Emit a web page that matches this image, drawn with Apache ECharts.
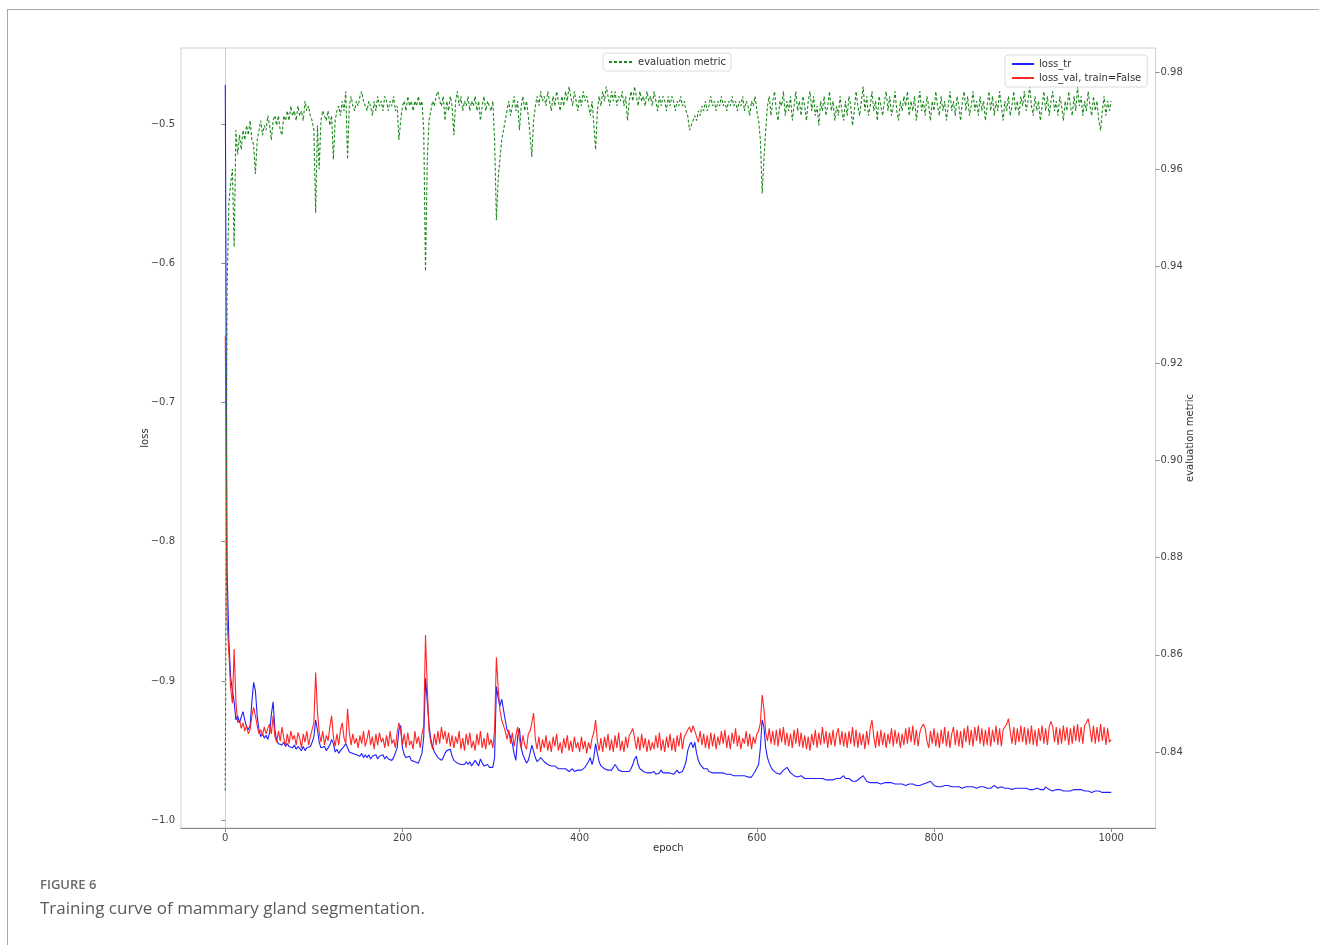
<!DOCTYPE html>
<html>
<head>
<meta charset="utf-8">
<script src="https://cdn.jsdelivr.net/npm/echarts@6/dist/echarts.min.js"></script>
<style>
html,body{margin:0;padding:0;background:#fff;}
#chart{width:1319px;height:945px;}
</style>
</head>
<body>
<div id="chart"></div>
<script>
// ---- data (sampled every 2 epochs: 0,2,...,1000) ----
const epochStep = 2;

const lossTr = [
-0.472,-0.820,-0.870,-0.897,-0.907,-0.915,-0.928,-0.925,-0.930,-0.926,-0.922,-0.928,-0.933,-0.935,-0.932,-0.915,-0.901,-0.907,-0.925,-0.935,-0.940,-0.938,-0.941,-0.939,-0.942,
-0.937,-0.924,-0.915,-0.935,-0.943,-0.945,-0.944,-0.946,-0.944,-0.947,-0.945,-0.947,-0.946,-0.948,-0.946,-0.949,-0.947,-0.948,-0.950,-0.947,-0.950,-0.948,-0.949,-0.947,-0.944,
-0.940,-0.928,-0.935,-0.944,-0.948,-0.949,-0.947,-0.950,-0.948,-0.946,-0.942,-0.945,-0.951,-0.949,-0.952,-0.950,-0.951,-0.947,-0.945,-0.948,-0.951,-0.950,-0.952,-0.951,-0.953,
-0.952,-0.954,-0.952,-0.955,-0.953,-0.955,-0.953,-0.956,-0.954,-0.955,-0.953,-0.956,-0.954,-0.955,-0.953,-0.956,-0.954,-0.956,-0.955,-0.957,-0.955,-0.954,-0.948,-0.935,-0.932,
-0.948,-0.953,-0.955,-0.956,-0.954,-0.957,-0.956,-0.958,-0.957,-0.959,-0.958,-0.952,-0.940,-0.898,-0.915,-0.932,-0.942,-0.947,-0.951,-0.953,-0.955,-0.956,-0.957,-0.955,-0.952,
-0.950,-0.951,-0.949,-0.954,-0.957,-0.958,-0.959,-0.958,-0.960,-0.959,-0.960,-0.958,-0.960,-0.958,-0.961,-0.959,-0.957,-0.959,-0.961,-0.956,-0.959,-0.961,-0.962,-0.960,-0.962,
-0.961,-0.962,-0.955,-0.904,-0.912,-0.918,-0.913,-0.912,-0.928,-0.935,-0.937,-0.940,-0.945,-0.952,-0.957,-0.940,-0.934,-0.948,-0.953,-0.956,-0.959,-0.957,-0.952,-0.946,-0.947,
-0.955,-0.958,-0.957,-0.955,-0.955,-0.958,-0.959,-0.960,-0.961,-0.961,-0.962,-0.961,-0.962,-0.963,-0.962,-0.963,-0.964,-0.963,-0.964,-0.965,-0.964,-0.963,-0.965,-0.964,-0.964,
-0.965,-0.964,-0.963,-0.962,-0.961,-0.958,-0.955,-0.960,-0.955,-0.945,-0.952,-0.958,-0.961,-0.962,-0.963,-0.962,-0.964,-0.963,-0.964,-0.962,-0.960,-0.962,-0.964,-0.963,-0.965,
-0.964,-0.965,-0.964,-0.965,-0.963,-0.960,-0.956,-0.954,-0.960,-0.963,-0.964,-0.965,-0.964,-0.966,-0.965,-0.966,-0.966,-0.965,-0.967,-0.966,-0.966,-0.964,-0.966,-0.967,-0.966,
-0.967,-0.966,-0.965,-0.967,-0.966,-0.964,-0.966,-0.965,-0.965,-0.962,-0.958,-0.950,-0.946,-0.944,-0.948,-0.944,-0.952,-0.957,-0.960,-0.961,-0.963,-0.964,-0.963,-0.965,-0.964,
-0.966,-0.965,-0.966,-0.967,-0.966,-0.967,-0.966,-0.965,-0.967,-0.968,-0.967,-0.966,-0.968,-0.967,-0.968,-0.967,-0.968,-0.969,-0.968,-0.968,-0.969,-0.968,-0.969,-0.967,-0.965,
-0.966,-0.960,-0.948,-0.928,-0.933,-0.948,-0.955,-0.959,-0.962,-0.964,-0.965,-0.966,-0.967,-0.967,-0.966,-0.964,-0.963,-0.962,-0.964,-0.966,-0.967,-0.968,-0.968,-0.969,-0.969,
-0.968,-0.969,-0.970,-0.969,-0.970,-0.969,-0.970,-0.969,-0.970,-0.971,-0.970,-0.969,-0.970,-0.970,-0.971,-0.970,-0.971,-0.970,-0.971,-0.971,-0.970,-0.971,-0.970,-0.969,-0.968,
-0.970,-0.971,-0.970,-0.971,-0.972,-0.971,-0.972,-0.971,-0.970,-0.969,-0.968,-0.970,-0.972,-0.972,-0.973,-0.972,-0.973,-0.972,-0.973,-0.973,-0.974,-0.973,-0.973,-0.974,-0.973,
-0.974,-0.973,-0.974,-0.974,-0.973,-0.974,-0.975,-0.974,-0.974,-0.975,-0.974,-0.974,-0.975,-0.974,-0.975,-0.975,-0.974,-0.975,-0.975,-0.974,-0.974,-0.973,-0.972,-0.972,-0.973,
-0.975,-0.975,-0.976,-0.975,-0.976,-0.975,-0.975,-0.976,-0.975,-0.976,-0.976,-0.975,-0.976,-0.975,-0.976,-0.976,-0.977,-0.976,-0.976,-0.975,-0.976,-0.977,-0.976,-0.976,-0.977,
-0.976,-0.976,-0.977,-0.976,-0.977,-0.977,-0.976,-0.977,-0.976,-0.975,-0.976,-0.977,-0.977,-0.976,-0.977,-0.977,-0.978,-0.977,-0.977,-0.978,-0.977,-0.977,-0.976,-0.977,-0.978,
-0.977,-0.978,-0.977,-0.978,-0.978,-0.977,-0.978,-0.978,-0.977,-0.978,-0.978,-0.977,-0.978,-0.976,-0.977,-0.978,-0.978,-0.979,-0.978,-0.978,-0.979,-0.978,-0.978,-0.979,-0.978,
-0.979,-0.978,-0.979,-0.979,-0.978,-0.979,-0.978,-0.977,-0.978,-0.979,-0.979,-0.978,-0.979,-0.979,-0.980,-0.979,-0.979,-0.980,-0.979,-0.979,-0.980,-0.979,-0.980,-0.979,-0.980,
-0.980
];

const lossVal = [
-0.652,-0.856,-0.880,-0.905,-0.916,-0.877,-0.915,-0.930,-0.928,-0.934,-0.930,-0.936,-0.932,-0.938,-0.935,-0.925,-0.919,-0.925,-0.932,-0.938,-0.935,-0.939,-0.933,-0.938,-0.934,
-0.931,-0.938,-0.925,-0.940,-0.944,-0.936,-0.943,-0.933,-0.941,-0.947,-0.938,-0.945,-0.936,-0.942,-0.939,-0.946,-0.937,-0.941,-0.948,-0.938,-0.944,-0.936,-0.946,-0.940,-0.935,
-0.930,-0.894,-0.922,-0.937,-0.944,-0.936,-0.946,-0.939,-0.943,-0.933,-0.925,-0.940,-0.947,-0.938,-0.946,-0.935,-0.930,-0.941,-0.945,-0.920,-0.937,-0.946,-0.938,-0.945,-0.941,
-0.948,-0.939,-0.945,-0.936,-0.947,-0.942,-0.935,-0.946,-0.940,-0.949,-0.938,-0.946,-0.937,-0.944,-0.941,-0.948,-0.939,-0.947,-0.936,-0.945,-0.942,-0.948,-0.937,-0.930,-0.936,
-0.946,-0.938,-0.948,-0.937,-0.946,-0.943,-0.949,-0.936,-0.945,-0.940,-0.948,-0.938,-0.932,-0.867,-0.905,-0.936,-0.944,-0.949,-0.938,-0.946,-0.936,-0.945,-0.933,-0.942,-0.936,
-0.945,-0.937,-0.947,-0.939,-0.948,-0.940,-0.945,-0.936,-0.949,-0.941,-0.950,-0.938,-0.946,-0.937,-0.948,-0.943,-0.950,-0.938,-0.946,-0.936,-0.948,-0.941,-0.949,-0.937,-0.946,
-0.942,-0.948,-0.935,-0.883,-0.905,-0.921,-0.928,-0.932,-0.936,-0.942,-0.935,-0.945,-0.937,-0.947,-0.939,-0.933,-0.942,-0.948,-0.939,-0.946,-0.949,-0.938,-0.936,-0.930,-0.923,
-0.942,-0.949,-0.940,-0.951,-0.942,-0.948,-0.939,-0.950,-0.943,-0.951,-0.940,-0.947,-0.938,-0.950,-0.944,-0.952,-0.941,-0.948,-0.939,-0.950,-0.943,-0.951,-0.940,-0.948,-0.944,
-0.951,-0.940,-0.949,-0.943,-0.952,-0.944,-0.949,-0.941,-0.937,-0.928,-0.943,-0.950,-0.941,-0.951,-0.940,-0.948,-0.938,-0.950,-0.942,-0.951,-0.939,-0.948,-0.937,-0.950,-0.943,
-0.951,-0.940,-0.948,-0.939,-0.937,-0.934,-0.941,-0.949,-0.940,-0.950,-0.938,-0.948,-0.941,-0.951,-0.942,-0.950,-0.944,-0.949,-0.939,-0.948,-0.937,-0.950,-0.942,-0.951,-0.940,
-0.948,-0.938,-0.950,-0.941,-0.951,-0.939,-0.947,-0.937,-0.949,-0.940,-0.938,-0.935,-0.933,-0.937,-0.932,-0.936,-0.940,-0.944,-0.936,-0.946,-0.938,-0.948,-0.939,-0.949,-0.937,
-0.947,-0.938,-0.949,-0.940,-0.946,-0.936,-0.945,-0.935,-0.948,-0.939,-0.949,-0.937,-0.945,-0.934,-0.947,-0.939,-0.949,-0.941,-0.945,-0.936,-0.947,-0.938,-0.949,-0.940,-0.945,
-0.938,-0.936,-0.930,-0.910,-0.920,-0.937,-0.943,-0.934,-0.945,-0.936,-0.946,-0.935,-0.947,-0.934,-0.944,-0.933,-0.946,-0.937,-0.947,-0.938,-0.948,-0.935,-0.945,-0.934,-0.947,
-0.937,-0.948,-0.939,-0.949,-0.940,-0.950,-0.938,-0.946,-0.935,-0.948,-0.937,-0.946,-0.933,-0.945,-0.936,-0.948,-0.937,-0.946,-0.935,-0.947,-0.938,-0.934,-0.946,-0.936,-0.947,
-0.937,-0.948,-0.936,-0.945,-0.933,-0.947,-0.935,-0.948,-0.937,-0.946,-0.938,-0.949,-0.936,-0.946,-0.934,-0.928,-0.940,-0.948,-0.936,-0.947,-0.935,-0.946,-0.937,-0.948,-0.938,
-0.945,-0.934,-0.947,-0.935,-0.945,-0.937,-0.948,-0.938,-0.946,-0.934,-0.945,-0.933,-0.944,-0.932,-0.946,-0.935,-0.947,-0.937,-0.933,-0.931,-0.934,-0.943,-0.948,-0.936,-0.945,
-0.934,-0.947,-0.937,-0.948,-0.935,-0.945,-0.933,-0.947,-0.936,-0.948,-0.938,-0.933,-0.946,-0.935,-0.947,-0.936,-0.948,-0.934,-0.944,-0.932,-0.946,-0.935,-0.947,-0.933,-0.943,
-0.932,-0.945,-0.934,-0.947,-0.935,-0.946,-0.933,-0.947,-0.935,-0.944,-0.932,-0.946,-0.934,-0.947,-0.935,-0.933,-0.931,-0.927,-0.936,-0.945,-0.933,-0.946,-0.934,-0.944,-0.932,
-0.944,-0.933,-0.946,-0.934,-0.945,-0.932,-0.946,-0.935,-0.947,-0.934,-0.943,-0.932,-0.945,-0.934,-0.946,-0.933,-0.929,-0.933,-0.944,-0.933,-0.946,-0.934,-0.945,-0.932,-0.943,
-0.933,-0.946,-0.934,-0.945,-0.932,-0.943,-0.931,-0.944,-0.933,-0.945,-0.932,-0.930,-0.927,-0.934,-0.944,-0.932,-0.945,-0.933,-0.944,-0.931,-0.943,-0.933,-0.946,-0.934,-0.944,
-0.942
];

const evalMetric = [
0.832,0.935,0.953,0.957,0.960,0.944,0.968,0.963,0.967,0.964,0.968,0.966,0.969,0.967,0.970,0.966,0.965,0.959,0.966,0.968,0.970,0.967,0.969,0.968,0.971,
0.969,0.966,0.970,0.971,0.969,0.971,0.968,0.967,0.971,0.970,0.972,0.970,0.973,0.971,0.972,0.970,0.973,0.971,0.972,0.970,0.974,0.972,0.973,0.971,0.970,
0.968,0.951,0.969,0.960,0.970,0.972,0.971,0.970,0.972,0.969,0.971,0.962,0.970,0.972,0.973,0.971,0.974,0.972,0.976,0.962,0.973,0.975,0.973,0.972,0.974,
0.973,0.975,0.976,0.974,0.973,0.972,0.974,0.973,0.971,0.974,0.972,0.975,0.973,0.974,0.972,0.975,0.974,0.972,0.974,0.973,0.975,0.972,0.973,0.966,0.970,
0.973,0.974,0.972,0.975,0.973,0.974,0.972,0.974,0.973,0.975,0.973,0.974,0.968,0.939,0.962,0.970,0.972,0.974,0.973,0.975,0.976,0.974,0.973,0.975,0.970,
0.974,0.972,0.975,0.973,0.967,0.974,0.976,0.973,0.975,0.972,0.974,0.973,0.975,0.972,0.974,0.973,0.975,0.972,0.974,0.970,0.973,0.975,0.972,0.974,0.973,
0.972,0.974,0.966,0.9495,0.958,0.962,0.966,0.968,0.970,0.972,0.974,0.971,0.973,0.975,0.972,0.974,0.968,0.973,0.975,0.972,0.974,0.971,0.967,0.9625,0.970,
0.973,0.975,0.973,0.976,0.974,0.975,0.973,0.976,0.974,0.972,0.975,0.973,0.976,0.974,0.972,0.975,0.973,0.976,0.974,0.977,0.975,0.973,0.976,0.974,0.972,
0.975,0.973,0.976,0.974,0.975,0.973,0.971,0.974,0.969,0.964,0.972,0.975,0.973,0.976,0.974,0.977,0.975,0.973,0.976,0.974,0.976,0.973,0.975,0.974,0.976,
0.973,0.975,0.970,0.974,0.976,0.974,0.977,0.975,0.973,0.976,0.974,0.975,0.973,0.976,0.974,0.975,0.973,0.976,0.974,0.972,0.975,0.973,0.975,0.974,0.972,
0.975,0.973,0.975,0.974,0.972,0.974,0.973,0.975,0.973,0.974,0.972,0.971,0.968,0.969,0.970,0.971,0.970,0.972,0.971,0.973,0.972,0.974,0.972,0.973,0.975,
0.973,0.974,0.972,0.974,0.973,0.975,0.973,0.974,0.972,0.974,0.973,0.975,0.973,0.974,0.972,0.974,0.973,0.975,0.972,0.974,0.973,0.971,0.974,0.973,0.975,
0.972,0.970,0.966,0.955,0.962,0.968,0.973,0.975,0.971,0.974,0.976,0.972,0.970,0.974,0.973,0.976,0.971,0.974,0.972,0.975,0.970,0.973,0.976,0.972,0.974,
0.971,0.975,0.973,0.970,0.974,0.976,0.972,0.975,0.971,0.973,0.969,0.974,0.972,0.975,0.971,0.973,0.976,0.972,0.974,0.970,0.973,0.971,0.975,0.972,0.970,
0.974,0.971,0.975,0.973,0.969,0.972,0.976,0.973,0.971,0.974,0.977,0.972,0.975,0.971,0.973,0.976,0.972,0.974,0.970,0.975,0.973,0.971,0.974,0.976,0.972,
0.975,0.971,0.973,0.976,0.972,0.970,0.974,0.972,0.975,0.973,0.976,0.971,0.974,0.972,0.975,0.970,0.973,0.976,0.972,0.974,0.971,0.975,0.973,0.970,0.974,
0.972,0.976,0.973,0.971,0.975,0.972,0.974,0.970,0.973,0.976,0.972,0.974,0.971,0.975,0.973,0.970,0.974,0.976,0.972,0.975,0.971,0.973,0.976,0.972,0.974,
0.971,0.975,0.972,0.974,0.970,0.973,0.976,0.972,0.975,0.971,0.974,0.972,0.976,0.973,0.970,0.974,0.972,0.975,0.971,0.973,0.976,0.972,0.974,0.971,0.975,
0.973,0.976,0.972,0.974,0.977,0.973,0.971,0.975,0.972,0.974,0.970,0.973,0.976,0.972,0.975,0.971,0.974,0.976,0.972,0.974,0.971,0.975,0.973,0.970,0.974,
0.972,0.976,0.973,0.971,0.975,0.972,0.977,0.973,0.975,0.971,0.974,0.972,0.976,0.973,0.971,0.975,0.972,0.974,0.970,0.968,0.972,0.975,0.971,0.974,0.972,
0.974
];

// ---- axes ticks ----
const epochTicks = [0, 200, 400, 600, 800, 1000];
const lossTicks = [-1.0, -0.9, -0.8, -0.7, -0.6, -0.5];
const lossTickLabels = ['\u22121.0', '\u22120.9', '\u22120.8', '\u22120.7', '\u22120.6', '\u22120.5'];
const evalTicks = [0.84, 0.86, 0.88, 0.90, 0.92, 0.94, 0.96, 0.98];
const evalTickLabels = ['0.84', '0.86', '0.88', '0.90', '0.92', '0.94', '0.96', '0.98'];

const toPairs = arr => arr.map((v, i) => [i * epochStep, v]);
const pick = (ticks, labels) => v => {
  const i = ticks.findIndex(t => Math.abs(t - v) < 1e-9);
  return i >= 0 ? labels[i] : '';
};

const FONT = 'DejaVu Sans';
const labelStyle = { color: '#444', fontSize: 10, fontFamily: FONT };
const legendCommon = {
  borderColor: '#dcdcdc', borderWidth: 1, borderRadius: 3, backgroundColor: 'rgba(255,255,255,0.8)',
  textStyle: { color: '#333', fontSize: 10, fontFamily: FONT },
  itemStyle: { opacity: 0, borderWidth: 0 },
  selectedMode: false
};

const chart = echarts.init(document.getElementById('chart'), null, { renderer: 'canvas' });
chart.setOption({
  animation: false,
  backgroundColor: '#fff',
  title: {
    text: 'FIGURE 6',
    subtext: 'Training curve of mammary gland segmentation.',
    left: 40, top: 877, padding: 0, itemGap: 5,
    textStyle: { fontFamily: 'Open Sans', fontSize: 13, fontWeight: 600, color: '#6a6a6a', lineHeight: 16 },
    subtextStyle: { fontFamily: 'Open Sans', fontSize: 17, color: '#5a5a5a', lineHeight: 22 }
  },
  graphic: [
    { type: 'line', shape: { x1: 7, y1: 9.5, x2: 1319, y2: 9.5 }, style: { stroke: '#a8a8a8', lineWidth: 1 } },
    { type: 'line', shape: { x1: 7.5, y1: 9, x2: 7.5, y2: 945 }, style: { stroke: '#a8a8a8', lineWidth: 1 } }
  ],
  legend: [
    Object.assign({
      data: ['evaluation metric'],
      left: 603, top: 53, padding: [4, 5], itemWidth: 24, itemHeight: 12
    }, legendCommon),
    Object.assign({
      data: ['loss_tr', 'loss_val, train=False'],
      orient: 'vertical', left: 1005, top: 55, padding: [4, 6], itemGap: 4, itemWidth: 22, itemHeight: 12
    }, legendCommon)
  ],
  grid: { left: 181, top: 48, width: 974.5, height: 780, show: true, borderColor: '#cfcfcf', borderWidth: 1, backgroundColor: 'transparent' },
  xAxis: {
    type: 'value', min: -50, max: 1050,
    name: 'epoch', nameLocation: 'middle', nameGap: 15, nameMoveOverlap: false,
    nameTextStyle: { color: '#333', fontSize: 10, fontFamily: FONT },
    axisLine: { show: true, lineStyle: { color: '#8a8a8a', width: 1 } },
    axisTick: { show: true, length: 4, customValues: epochTicks, lineStyle: { color: '#8a8a8a' } },
    axisLabel: Object.assign({ customValues: epochTicks, margin: 5, formatter: v => String(v) }, labelStyle),
    splitLine: { show: false }
  },
  yAxis: [
    {
      type: 'value', position: 'left', min: -1.00557, max: -0.44542,
      name: 'loss', nameLocation: 'middle', nameGap: 31, nameRotate: 90, nameMoveOverlap: false,
      nameTextStyle: { color: '#333', fontSize: 10, fontFamily: FONT },
      axisLine: { show: true, lineStyle: { color: '#cfcfcf', width: 1 } },
      axisTick: { show: true, length: 4, customValues: lossTicks, lineStyle: { color: '#8a8a8a' } },
      axisLabel: Object.assign({ customValues: lossTicks, margin: 6, formatter: pick(lossTicks, lossTickLabels) }, labelStyle),
      splitLine: { show: false }
    },
    {
      type: 'value', position: 'right', min: 0.82435, max: 0.98494,
      name: 'evaluation metric', nameLocation: 'middle', nameGap: 30, nameRotate: 90, nameMoveOverlap: false,
      nameTextStyle: { color: '#333', fontSize: 10, fontFamily: FONT },
      axisLine: { show: true, lineStyle: { color: '#cfcfcf', width: 1 } },
      axisTick: { show: true, length: 4, customValues: evalTicks, lineStyle: { color: '#8a8a8a' } },
      axisLabel: Object.assign({ customValues: evalTicks, margin: 5, formatter: pick(evalTicks, evalTickLabels) }, labelStyle),
      splitLine: { show: false }
    }
  ],
  series: [
    {
      name: 'loss_tr', type: 'line', yAxisIndex: 0, symbol: 'none', data: toPairs(lossTr),
      lineStyle: { color: '#1f1fff', width: 1.1 }, itemStyle: { color: '#1f1fff' }
    },
    {
      name: 'loss_val, train=False', type: 'line', yAxisIndex: 0, symbol: 'none', data: toPairs(lossVal),
      lineStyle: { color: '#ff1a1a', width: 1.1, opacity: 0.95 }, itemStyle: { color: '#ff1a1a' }
    },
    {
      name: 'evaluation metric', type: 'line', yAxisIndex: 1, symbol: 'none', data: toPairs(evalMetric),
      lineStyle: { color: '#1e8a1e', width: 1.1, type: [3, 2] }, itemStyle: { color: '#1e8a1e' }
    }
  ]
});
</script>
</body>
</html>
